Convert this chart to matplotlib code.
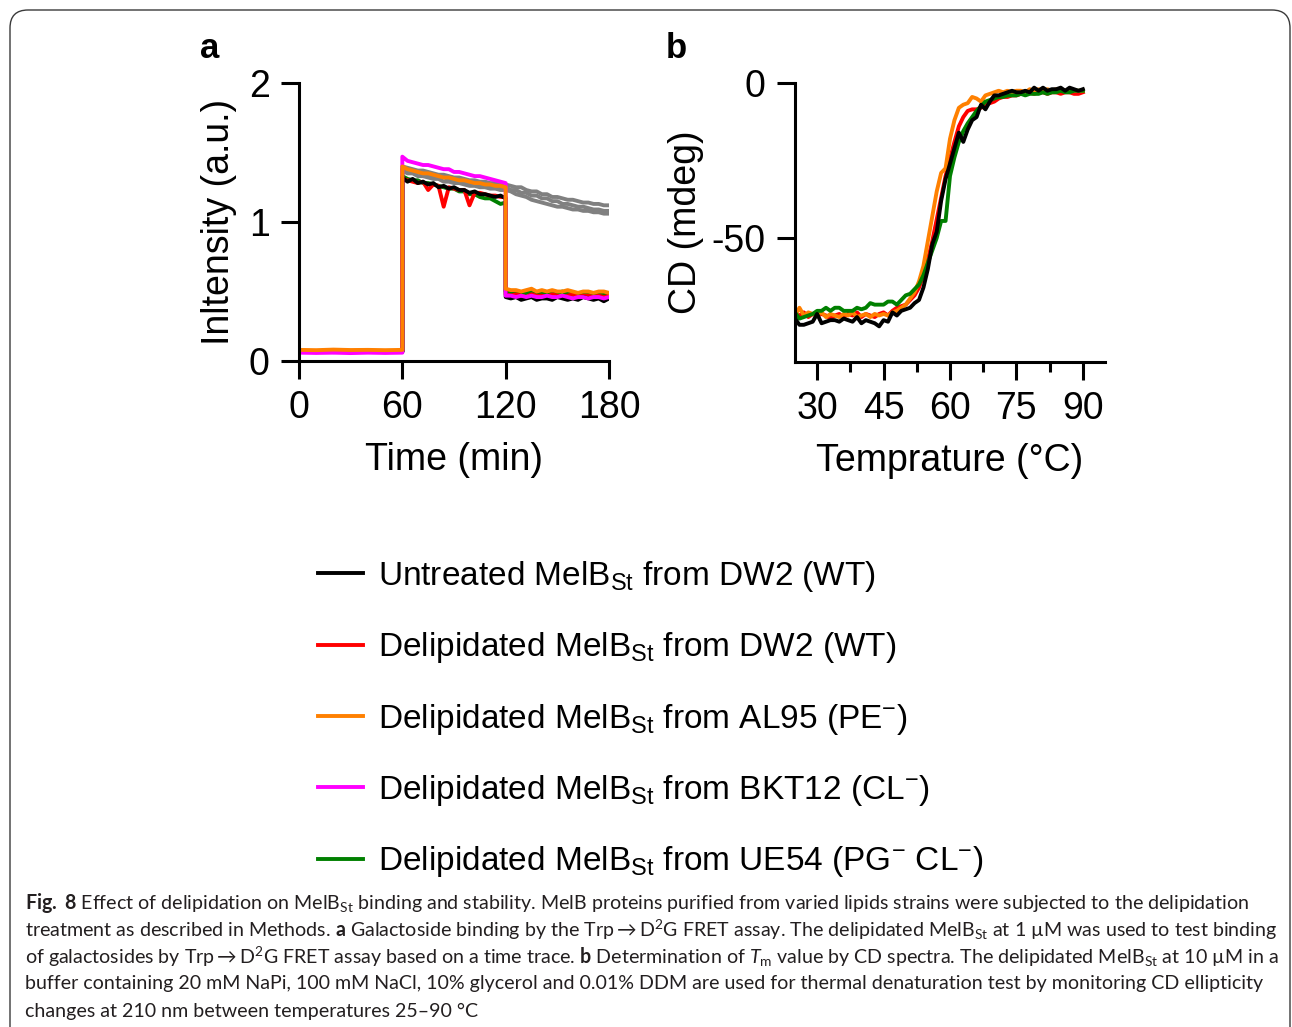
import matplotlib
matplotlib.use("Agg")
import matplotlib.pyplot as plt
from matplotlib.patches import FancyBboxPatch
from matplotlib.transforms import IdentityTransform
from matplotlib.ticker import MultipleLocator

plt.rcParams["font.family"] = "Liberation Sans"
plt.rcParams["axes.unicode_minus"] = False
plt.rcParams["mathtext.fontset"] = "custom"
plt.rcParams["mathtext.rm"] = "Lato"
plt.rcParams["mathtext.it"] = "Lato:italic"
plt.rcParams["mathtext.bf"] = "Lato:bold"

# ---- panel a: FRET time trace ----
time_min = [0, 10, 20, 30, 40, 50, 60,
            60, 63, 66, 69, 72, 75, 78, 81, 84, 87, 90, 93, 96, 99, 102, 105, 108, 111, 114, 117, 120,
            120, 123, 126, 129, 132, 135, 138, 141, 144, 147, 150, 153, 156, 159, 162, 165, 168, 171, 174, 177, 180]

untreated_dw2 = [0.065, 0.068, 0.064, 0.066, 0.069, 0.065, 0.067,
                 1.32, 1.29, 1.31, 1.28, 1.29, 1.27, 1.28, 1.25, 1.26, 1.24, 1.25, 1.23, 1.23, 1.21, 1.22, 1.20, 1.20, 1.19, 1.18, 1.19, 1.17,
                 0.46, 0.45, 0.46, 0.44, 0.45, 0.46, 0.44, 0.45, 0.45, 0.44, 0.46, 0.45, 0.44, 0.45, 0.44, 0.46, 0.45, 0.44, 0.45, 0.43, 0.45]
delip_dw2 = [0.070, 0.066, 0.070, 0.068, 0.066, 0.070, 0.068,
             1.31, 1.30, 1.29, 1.28, 1.29, 1.23, 1.27, 1.26, 1.11, 1.25, 1.24, 1.23, 1.23, 1.12, 1.21, 1.21, 1.20, 1.19, 1.19, 1.18, 1.18,
             0.48, 0.47, 0.48, 0.47, 0.46, 0.48, 0.47, 0.47, 0.46, 0.48, 0.47, 0.46, 0.47, 0.48, 0.46, 0.47, 0.47, 0.46, 0.47, 0.46, 0.47]
delip_al95 = [0.080, 0.078, 0.082, 0.079, 0.080, 0.078, 0.080,
              1.40, 1.38, 1.37, 1.36, 1.35, 1.35, 1.34, 1.33, 1.32, 1.32, 1.31, 1.30, 1.30, 1.29, 1.28, 1.28, 1.27, 1.27, 1.26, 1.26, 1.25,
              0.52, 0.51, 0.51, 0.50, 0.51, 0.52, 0.50, 0.51, 0.50, 0.51, 0.50, 0.50, 0.51, 0.50, 0.49, 0.50, 0.50, 0.49, 0.50, 0.50, 0.49]
delip_bkt12 = [0.060, 0.058, 0.060, 0.057, 0.060, 0.058, 0.060,
               1.47, 1.44, 1.43, 1.42, 1.41, 1.41, 1.40, 1.39, 1.38, 1.38, 1.36, 1.36, 1.35, 1.34, 1.33, 1.33, 1.32, 1.31, 1.30, 1.29, 1.28,
               0.47, 0.47, 0.46, 0.47, 0.46, 0.47, 0.46, 0.46, 0.47, 0.46, 0.46, 0.47, 0.46, 0.45, 0.46, 0.46, 0.45, 0.46, 0.46, 0.45, 0.46]
delip_ue54 = [0.066, 0.064, 0.067, 0.065, 0.066, 0.064, 0.066,
              1.33, 1.31, 1.30, 1.30, 1.28, 1.28, 1.27, 1.26, 1.25, 1.24, 1.24, 1.22, 1.22, 1.20, 1.20, 1.18, 1.17, 1.17, 1.15, 1.13, 1.14,
              0.50, 0.49, 0.49, 0.48, 0.49, 0.50, 0.48, 0.49, 0.49, 0.48, 0.49, 0.50, 0.48, 0.49, 0.48, 0.49, 0.48, 0.49, 0.48, 0.48, 0.48]

# controls without the chase (grey)
ctrl_1 = [0.070, 0.070, 0.070, 0.070, 0.070, 0.070, 0.070,
          1.40, 1.39, 1.38, 1.37, 1.37, 1.36, 1.35, 1.34, 1.34, 1.33, 1.32, 1.32, 1.31, 1.30, 1.30, 1.29, 1.29, 1.28, 1.28, 1.27, 1.27,
          1.27, 1.26, 1.25, 1.25, 1.23, 1.22, 1.22, 1.20, 1.20, 1.18, 1.18, 1.17, 1.16, 1.16, 1.15, 1.14, 1.14, 1.13, 1.13, 1.12, 1.12]
ctrl_2 = [0.070, 0.070, 0.070, 0.070, 0.070, 0.070, 0.070,
          1.37, 1.35, 1.35, 1.33, 1.33, 1.32, 1.31, 1.31, 1.29, 1.29, 1.28, 1.28, 1.27, 1.26, 1.26, 1.25, 1.25, 1.24, 1.24, 1.23, 1.23,
          1.23, 1.22, 1.20, 1.19, 1.18, 1.16, 1.15, 1.14, 1.13, 1.12, 1.11, 1.11, 1.10, 1.09, 1.09, 1.08, 1.08, 1.07, 1.07, 1.06, 1.06]
ctrl_3 = [0.070, 0.070, 0.070, 0.070, 0.070, 0.070, 0.070,
          1.38, 1.37, 1.36, 1.36, 1.34, 1.34, 1.33, 1.32, 1.32, 1.31, 1.30, 1.30, 1.29, 1.28, 1.28, 1.27, 1.27, 1.26, 1.26, 1.25, 1.25,
          1.25, 1.23, 1.23, 1.21, 1.21, 1.19, 1.19, 1.17, 1.17, 1.15, 1.15, 1.13, 1.13, 1.12, 1.11, 1.11, 1.10, 1.09, 1.09, 1.08, 1.08]

# ---- panel b: CD melting ----
temp_c = [25, 26, 27, 28, 29, 30, 31, 32, 33, 34, 35, 36, 37, 38, 39, 40, 41, 42, 43, 44, 45, 46,
          47, 48, 49, 50, 51, 52, 53, 54, 55, 56, 57, 58, 59, 60, 61, 62, 63, 64, 65, 66, 67, 68,
          69, 70, 71, 72, 73, 74, 75, 76, 77, 78, 79, 80, 81, 82, 83, 84, 85, 86, 87, 88, 89, 90]

cd_untreated = [-76, -78, -78, -77.5, -77, -74.5, -77.5, -77, -76.5, -76.5, -77, -76, -76.5, -77, -75.5, -77.5,
                -76.5, -77, -77.5, -78.5, -76.5, -77, -74, -75, -73.5, -73, -72.5, -71, -70, -66, -60, -52,
                -48, -38, -31, -26, -21, -16, -19, -15, -12, -11, -7, -8.5, -6, -4, -4, -3.5, -3, -2.5, -3, -3,
                -2.5, -3, -1.5, -2.5, -1.5, -2.5, -2, -2, -1.5, -2.5, -1.5, -2, -2.5, -2]
cd_dw2 = [-74.5, -75, -74, -75.5, -74.5, -75, -74.5, -75, -76, -75, -74.5, -75.5, -74.5, -75, -74, -75.5,
          -74.5, -75, -75.5, -74.5, -74, -75, -73.5, -72.5, -72, -71.5, -70, -68.5, -66, -62, -57, -51,
          -44, -37, -30, -24.5, -19, -14, -11, -9, -8.5, -8.5, -8, -7, -6.5, -6, -5, -4.5, -4.5, -4, -4, -3.5,
          -3.5, -3, -3.5, -3, -3, -3.5, -3, -3, -3.5, -3, -3, -3.5, -3.5, -3]
cd_al95 = [-75, -72.5, -75, -74, -74.5, -75, -74, -75.5, -74.5, -75, -75.5, -74.5, -75, -74, -75.5, -75,
           -74.5, -75.5, -74.5, -75, -74.5, -75, -74, -73.5, -72.5, -71.5, -69.5, -67.5, -64, -59, -51, -43,
           -35, -29, -27.5, -18, -12, -8, -7, -6.5, -4.5, -5, -6, -4, -3.5, -3, -2.5, -3, -2.5, -3, -2.5, -2.5,
           -3, -2, -2.5, -2, -2.5, -2, -2.5, -2, -2, -2.5, -2, -2.5, -2.5, -2.5]
cd_ue54 = [-74, -76, -75.5, -75, -74.5, -73.5, -73.5, -72.5, -73.5, -72.5, -72.5, -73.5, -73.5, -73.5, -72.5, -73,
           -72.5, -71, -71.5, -71.5, -71.5, -70.5, -70.5, -71.5, -70, -68.5, -68, -66.5, -65, -62, -58, -54,
           -50, -44.5, -44.5, -30, -24, -19, -15.5, -13, -11, -9, -7.5, -6, -5.5, -5, -4.5, -4.5, -4, -4, -4, -3.5,
           -4, -3.5, -3.5, -3.5, -3, -3.5, -3, -3, -2.5, -3, -3, -2.5, -2.5, -2.5]

legend_labels = [
    r"Untreated MelB$_{\mathregular{St}}$ from DW2 (WT)",
    r"Delipidated MelB$_{\mathregular{St}}$ from DW2 (WT)",
    r"Delipidated MelB$_{\mathregular{St}}$ from AL95 (PE$^{\mathregular{-}}$)",
    r"Delipidated MelB$_{\mathregular{St}}$ from BKT12 (CL$^{\mathregular{-}}$)",
    r"Delipidated MelB$_{\mathregular{St}}$ from UE54 (PG$^{\mathregular{-}}$ CL$^{\mathregular{-}}$)",
]

caption_lines = [
    r"$\mathbf{Fig.\ 8}$ Effect of delipidation on MelB$_{\mathregular{St}}$ binding and stability. MelB proteins purified from varied lipids strains were subjected to the delipidation",
    r"treatment as described in Methods. $\mathbf{a}$ Galactoside binding by the Trp$\rightarrow$D$^{\mathregular{2}}$G FRET assay. The delipidated MelB$_{\mathregular{St}}$ at 1 µM was used to test binding",
    r"of galactosides by Trp$\rightarrow$D$^{\mathregular{2}}$G FRET assay based on a time trace. $\mathbf{b}$ Determination of $\mathit{T}_{\mathregular{m}}$ value by CD spectra. The delipidated MelB$_{\mathregular{St}}$ at 10 µM in a",
    "buffer containing 20 mM NaPi, 100 mM NaCl, 10% glycerol and 0.01% DDM are used for thermal denaturation test by monitoring CD ellipticity",
    "changes at 210 nm between temperatures 25–90 °C",
]

BLACK = "#000000"
RED = "#ff0000"
ORANGE = "#ff8000"
MAGENTA = "#ff00ff"
GREEN = "#008000"
GREY = "#808080"

W, H = 1292, 1027
fig = plt.figure(figsize=(W / 100, H / 100), dpi=100)

spine_lw = 2.2
lw = 2.8
fs = 27


def style_axes(ax):
    for s in ("top", "right"):
        ax.spines[s].set_visible(False)
    for s in ("left", "bottom"):
        ax.spines[s].set_linewidth(spine_lw)
    ax.tick_params(which="major", width=spine_lw, length=13, labelsize=fs, pad=8)
    ax.tick_params(which="minor", width=spine_lw, length=7)


# panel a
ax_a = fig.add_axes([299 / W, 1 - 361 / H, 310 / W, 278 / H])
for g in (ctrl_1, ctrl_2, ctrl_3):
    ax_a.plot(time_min, g, color=GREY, lw=lw)
h_green, = ax_a.plot(time_min, delip_ue54, color=GREEN, lw=lw)
h_red, = ax_a.plot(time_min, delip_dw2, color=RED, lw=lw)
h_black, = ax_a.plot(time_min, untreated_dw2, color=BLACK, lw=lw)
h_mag, = ax_a.plot(time_min, delip_bkt12, color=MAGENTA, lw=lw)
h_orange, = ax_a.plot(time_min, delip_al95, color=ORANGE, lw=lw)
ax_a.set_xlim(0, 180)
ax_a.set_ylim(0, 2)
ax_a.set_xticks([0, 60, 120, 180])
ax_a.set_yticks([0, 1, 2])
style_axes(ax_a)
ax_a.set_xlabel("Time (min)", fontsize=fs)
ax_a.set_ylabel("Inltensity (a.u.)", fontsize=fs)
ax_a.xaxis.set_label_coords(0.5, -0.29)
ax_a.yaxis.set_label_coords(-0.20, 0.5)

# panel b
ax_b = fig.add_axes([795 / W, 1 - 362 / H, 310 / W, 279 / H])
ax_b.plot(temp_c, cd_dw2, color=RED, lw=lw)
ax_b.plot(temp_c, cd_al95, color=ORANGE, lw=lw)
ax_b.plot(temp_c, cd_ue54, color=GREEN, lw=lw)
ax_b.plot(temp_c, cd_untreated, color=BLACK, lw=lw)
ax_b.set_xlim(25, 95)
ax_b.set_ylim(-90, 0)
ax_b.set_xticks([30, 45, 60, 75, 90])
ax_b.xaxis.set_minor_locator(MultipleLocator(7.5))
ax_b.set_yticks([0, -50])
style_axes(ax_b)
ax_b.set_xlabel("Temprature (°C)", fontsize=fs)
ax_b.set_ylabel("CD (mdeg)", fontsize=fs)
ax_b.xaxis.set_label_coords(0.5, -0.29)
ax_b.yaxis.set_label_coords(-0.295, 0.5)

fig.text(210 / W, 1 - 48 / H, "a", fontsize=25, fontweight="bold", ha="center", va="center")
fig.text(676 / W, 1 - 48 / H, "b", fontsize=25, fontweight="bold", ha="center", va="center")

fig.legend([h_black, h_red, h_orange, h_mag, h_green], legend_labels,
           loc="upper left", bbox_to_anchor=(318 / W, 1 - 559 / H),
           frameon=False, fontsize=24, handlelength=1.35, handletextpad=0.45,
           labelspacing=1.09, borderpad=0, borderaxespad=0)

for i, line in enumerate(caption_lines):
    fig.text(25 / W, 1 - (903 + 27 * i) / H, line, fontsize=14.1, family="Lato",
             ha="left", va="center", color="#231f20")

frame = FancyBboxPatch((10, -40), 1280, 1027 - 10 + 40,
                       boxstyle="round,pad=0,rounding_size=18",
                       transform=IdentityTransform(), fill=False,
                       edgecolor="#3a3a3a", lw=1.0)
fig.add_artist(frame)

fig.savefig("out.png", dpi=100)
